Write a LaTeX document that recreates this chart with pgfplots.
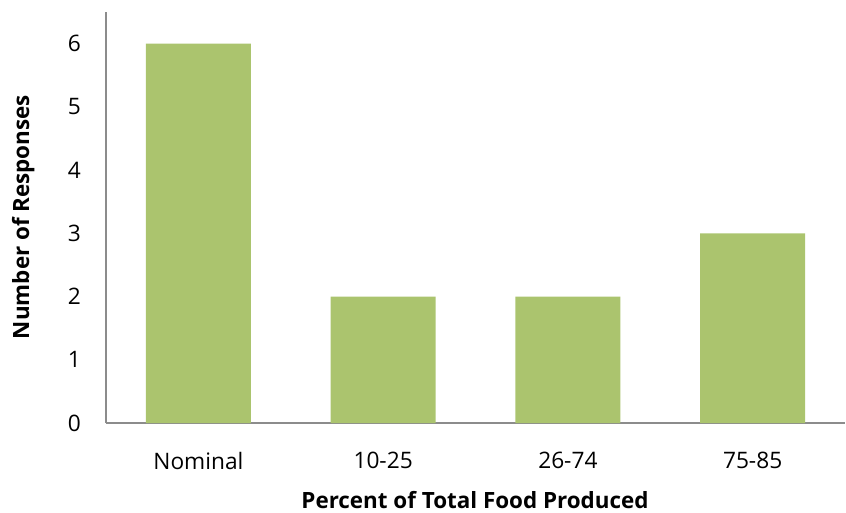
\documentclass[border=0pt]{standalone}
\usepackage{fontspec}
\setmainfont{Open Sans}
\usepackage{pgfplots}
\pgfplotsset{compat=1.18}
\definecolor{bargreen}{HTML}{ABC46E}
\definecolor{axisgray}{HTML}{8C8C8C}

\begin{document}
\begin{tikzpicture}[x=1pt,y=1pt]
\useasboundingbox (0,0) rectangle (846,512);
\begin{axis}[
  at={(106pt,89pt)}, anchor=south west,
  scale only axis, width=739pt, height=411pt,
  xmin=-0.5, xmax=3.5, ymin=0, ymax=6.5,
  axis x line*=bottom, axis y line*=left,
  axis line style={axisgray, line width=1.5pt},
  ytick={0,1,2,3,4,5,6},
  xtick={0,1,2,3},
  xticklabels={Nominal,10-25,26-74,75-85},
  major tick length=0pt,
  ybar, bar width=105pt, bar shift=0pt,
  tick label style={font=\fontsize{22.7}{27}\selectfont},
  /pgf/number format/assume math mode=true,
  yticklabel style={inner sep=0pt, anchor=east, xshift=-25pt},
  xticklabel style={inner sep=0pt, anchor=north, yshift=-29pt},
]
\addplot[fill=bargreen, draw=none] coordinates {(0,6) (1,2) (2,2) (3,3)};
\end{axis}
\node[anchor=base, inner sep=0pt, font=\bfseries\fontsize{22.4}{27}\selectfont] at (475,4) {Percent of Total Food Produced};
\node[rotate=90, anchor=base, inner sep=0pt, font=\bfseries\fontsize{22.4}{27}\selectfont] at (29,295) {Number of Responses};
\end{tikzpicture}
\end{document}
